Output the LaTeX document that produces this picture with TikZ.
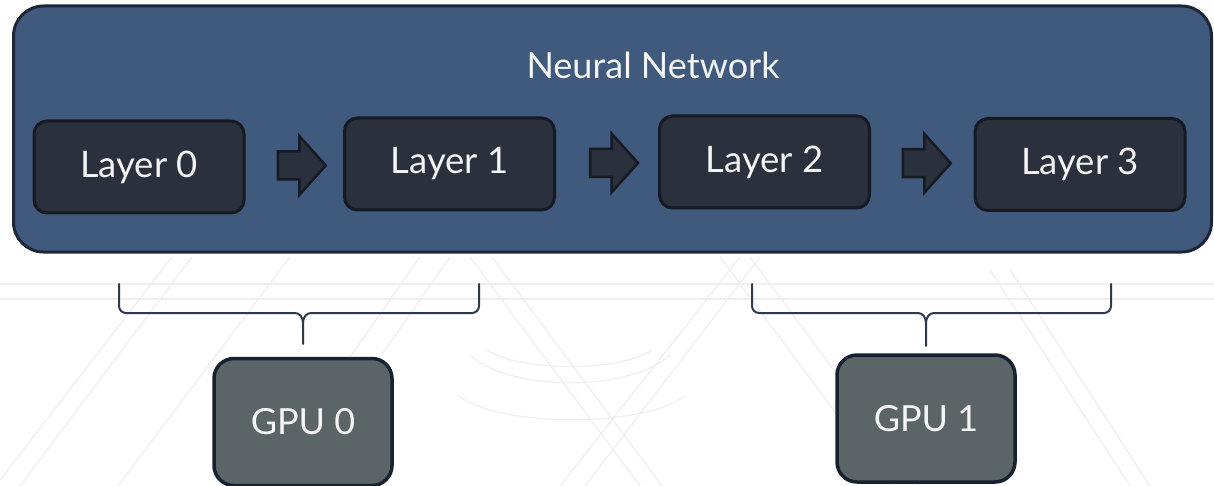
\documentclass[tikz,border=0pt]{standalone}
\usepackage{fontspec}
\setmainfont{Lato}
\usetikzlibrary{calc}

\definecolor{netfill}{HTML}{405A7E}
\definecolor{netedge}{HTML}{1C2637}
\definecolor{layerfill}{HTML}{2A303C}
\definecolor{layeredge}{HTML}{151A23}
\definecolor{gpufill}{HTML}{5B6567}
\definecolor{gpuedge}{HTML}{172131}
\definecolor{bracecol}{HTML}{2E3A4C}
\definecolor{txt}{HTML}{F4F4F4}
\definecolor{faint}{HTML}{EFEFEF}

\tikzset{
  netbox/.style={draw=netedge, fill=netfill, line width=3pt, rounded corners=30pt,
    minimum width=1198pt, minimum height=246pt, inner sep=0pt},
  layerbox/.style={draw=layeredge, fill=layerfill, line width=3pt, rounded corners=13pt,
    minimum width=210pt, minimum height=92pt, inner sep=0pt, text=txt,
    font=\fontsize{36.5}{42}\selectfont},
  gpubox/.style={draw=gpuedge, fill=gpufill, line width=3.5pt, rounded corners=20pt,
    minimum width=178pt, minimum height=127pt, inner sep=0pt, text=txt,
    font=\fontsize{36}{42}\selectfont},
  titletext/.style={text=txt, font=\fontsize{36}{42}\selectfont, inner sep=0pt},
  bracestyle/.style={draw=bracecol, line width=2pt, line join=round, line cap=round},
  bg/.style={draw=faint, line width=1.3pt},
  blockarrow/.pic={
    \path[draw=layeredge, fill=layerfill, line width=2.5pt, line join=miter]
      (-24,-14) -- (-2.5,-14) -- (-2.5,-29.5) -- (24,0) -- (-2.5,29.5)
      -- (-2.5,14) -- (-24,14) -- cycle;
  }
}

\begin{document}
\begin{tikzpicture}[x=1pt, y=-1pt]
\useasboundingbox (0,0) rectangle (1214,486);

% faint background ornament
\begin{scope}
  \draw[bg] (0,284) -- (1214,284);
  \draw[bg] (0,299) -- (1214,299);
  \draw[bg] (0,480) -- (172,257);
  \draw[bg] (20,486) -- (192,257);
  \draw[bg] (118,486) -- (290,257);
  \draw[bg] (260,486) -- (420,257);
  \draw[bg] (290,486) -- (450,257);
  \draw[bg] (470,257) -- (640,486);
  \draw[bg] (492,257) -- (662,486);
  \draw[bg] (560,486) -- (740,257);
  \draw[bg] (585,486) -- (760,257);
  \draw[bg] (720,257) -- (890,486);
  \draw[bg] (750,257) -- (920,486);
  \draw[bg] (990,270) -- (1130,486);
  \draw[bg] (1010,270) -- (1150,486);
  \draw[bg] (487,350) .. controls (520,372) and (620,372) .. (652,350);
  \draw[bg] (470,355) .. controls (510,392) and (630,392) .. (670,355);
  \draw[bg] (457,395) .. controls (500,428) and (645,428) .. (686,395);
\end{scope}

% the network container and its title
\node[netbox] (net) at (612.5,129) {};
\node[titletext] (title) at (653,65) {Neural Network};

% the four layers
\node[layerbox] (l0) at (139,167)   {Layer 0};
\node[layerbox] (l1) at (449.5,164) {Layer 1};
\node[layerbox] (l2) at (764.5,162) {Layer 2};
\node[layerbox] (l3) at (1080,164.5){Layer 3};

% block arrows between consecutive layers
\coordinate (a01) at ($(l0.east)!0.5!(l1.west)+(7.5,0)$);
\coordinate (a12) at ($(l1.east)!0.5!(l2.west)+(7,0)$);
\coordinate (a23) at ($(l2.east)!0.5!(l3.west)+(4.5,0)$);
\pic at (a01) {blockarrow};
\pic at (a12) {blockarrow};
\pic at (a23) {blockarrow};

% devices
\node[gpubox] (g0) at (303,422)   {GPU 0};
\node[gpubox] (g1) at (926,418.5) {GPU 1};

% brace grouping layers 0-1 onto GPU 0
\coordinate (b0l) at (119,284);
\coordinate (b0r) at (479,284);
\coordinate (b0t) at (g0.north |- 0,344);
\draw[bracestyle] (b0l) -- ++(0,22) to[out=-90,in=180] ++(7,7)
  -- ($(b0t)+(-8,-31)$) to[out=0,in=90] ($(b0t)+(0,-21)$) -- (b0t);
\draw[bracestyle] ($(b0t)+(0,-21)$) to[out=90,in=180] ($(b0t)+(8,-31)$)
  -- ($(b0r)+(-7,29)$) to[out=0,in=-90] ($(b0r)+(0,22)$) -- (b0r);

% brace grouping layers 2-3 onto GPU 1
\coordinate (b1l) at (752,284);
\coordinate (b1r) at (1111,284);
\coordinate (b1t) at (g1.north |- 0,346);
\draw[bracestyle] (b1l) -- ++(0,22) to[out=-90,in=180] ++(7,7)
  -- ($(b1t)+(-8,-33)$) to[out=0,in=90] ($(b1t)+(0,-23)$) -- (b1t);
\draw[bracestyle] ($(b1t)+(0,-23)$) to[out=90,in=180] ($(b1t)+(8,-33)$)
  -- ($(b1r)+(-7,29)$) to[out=0,in=-90] ($(b1r)+(0,22)$) -- (b1r);
\end{tikzpicture}
\end{document}
